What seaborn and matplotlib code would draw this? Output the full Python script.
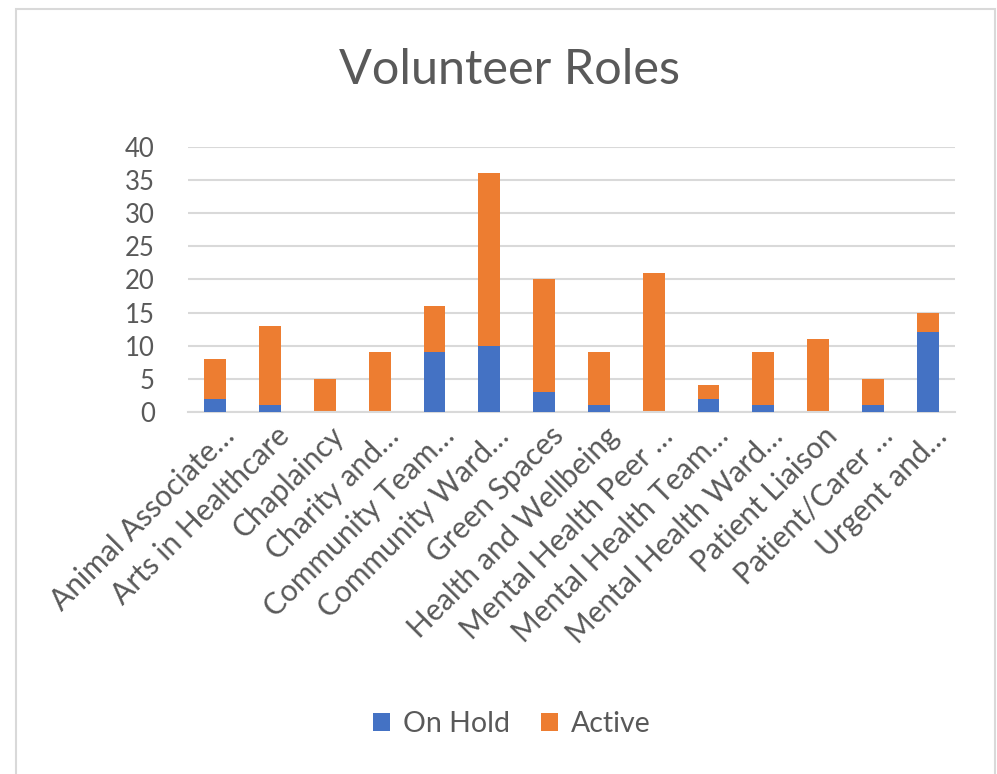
import matplotlib
matplotlib.use("Agg")
import matplotlib.pyplot as plt
import matplotlib.transforms as mtransforms
from matplotlib.patches import Rectangle, Patch
import seaborn as sns
import pandas as pd

categories = [
    "Animal Associate…", "Arts in Healthcare", "Chaplaincy", "Charity and…",
    "Community Team…", "Community Ward…", "Green Spaces", "Health and Wellbeing",
    "Mental Health Peer …", "Mental Health Team…", "Mental Health Ward…",
    "Patient Liaison", "Patient/Carer …", "Urgent and…",
]
on_hold = [2, 1, 0, 0, 9, 10, 3, 1, 0, 2, 1, 0, 1, 12]
active = [6, 12, 5, 9, 7, 26, 17, 8, 21, 2, 8, 11, 4, 3]
series_names = ["On Hold", "Active"]
y_ticks = [0, 5, 10, 15, 20, 25, 30, 35, 40]

BLUE = "#4472C4"
ORANGE = "#ED7D31"
GRID = "#D9D9D9"
TEXT = "#595959"

df = pd.DataFrame({"role": categories, "on_hold": on_hold, "active": active})
df["total"] = df["on_hold"] + df["active"]

sns.set_theme(style="white")
plt.rcParams["font.family"] = ["Lato", "DejaVu Sans"]

W, H = 997, 774
fig = plt.figure(figsize=(W / 100, H / 100), dpi=100)
ax = fig.add_axes([188 / W, 1 - 412 / H, (955 - 188) / W, (412 - 146.7) / H])

sns.barplot(data=df, x="role", y="total", color=ORANGE, width=0.4,
            saturation=1, ax=ax, zorder=2)
sns.barplot(data=df, x="role", y="on_hold", color=BLUE, width=0.4,
            saturation=1, ax=ax, zorder=3)
for p in ax.patches:
    p.set_edgecolor("none")

ax.set_ylim(0, 40)
ax.set_xlim(-0.5, len(categories) - 0.5)
ax.set_yticks(y_ticks)
ax.set_yticklabels([str(v) for v in y_ticks], fontsize=18.5, color=TEXT)
ax.set_xlabel("")
ax.set_ylabel("")
ax.yaxis.grid(True, color=GRID, linewidth=1.5, zorder=0)
ax.set_axisbelow(True)
for s in ["left", "right", "top"]:
    ax.spines[s].set_visible(False)
ax.spines["bottom"].set_color(GRID)
ax.spines["bottom"].set_linewidth(1.5)
ax.tick_params(axis="y", length=0, pad=24)
ax.tick_params(axis="x", length=0, pad=4)

ax.set_xticks(range(len(categories)))
ax.set_xticklabels(categories, rotation=45, ha="right", va="center",
                   rotation_mode="anchor", fontsize=21.5, color=TEXT)
offset = mtransforms.ScaledTranslation(15 / 100, -14 / 100, fig.dpi_scale_trans)
for lbl in ax.get_xticklabels():
    lbl.set_transform(lbl.get_transform() + offset)

fig.text(509 / W, 1 - 70 / H, "Volunteer Roles", ha="center", va="center",
         fontsize=35, color=TEXT)

handles = [Patch(facecolor=BLUE, edgecolor="none"),
           Patch(facecolor=ORANGE, edgecolor="none")]
fig.legend(handles, series_names, loc="center", bbox_to_anchor=(512 / W, 1 - 724 / H),
           ncol=2, frameon=False, fontsize=20.5, labelcolor=TEXT,
           handlelength=0.6, handleheight=0.6, handletextpad=0.45,
           columnspacing=1.1)

fig.patches.append(Rectangle((16 / W, -0.05), (995 - 16) / W, 1.05 - 9 / H,
                             transform=fig.transFigure, fill=False,
                             edgecolor=GRID, linewidth=1.5))

fig.savefig("out.png", dpi=100, facecolor="white")
